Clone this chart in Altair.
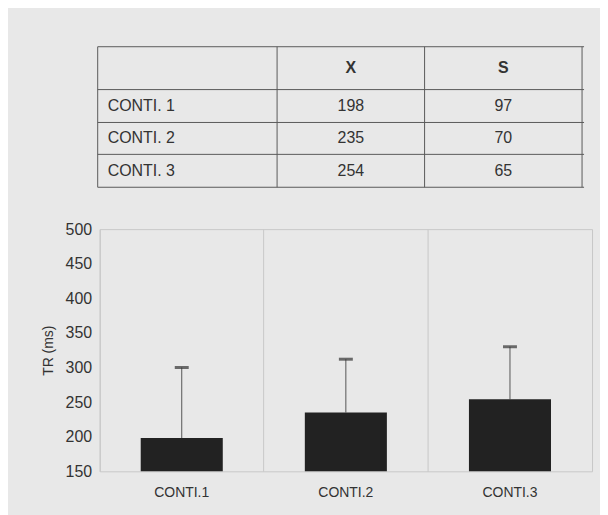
import altair as alt
import pandas as pd

# ---- data ----
categories = ["CONTI.1", "CONTI.2", "CONTI.3"]
means = [198, 235, 254]
err_tops = [300, 312, 330]          # top of error bar as drawn

row_labels = ["CONTI. 1", "CONTI. 2", "CONTI. 3"]
col_headers = ["", "X", "S"]
table_x = ["198", "235", "254"]
table_s = ["97", "70", "65"]

# ---- table layout (relative widths / heights) ----
col_widths = [180, 148, 158]
row_heights = [43, 33, 32, 33]
TW, TH = sum(col_widths), sum(row_heights)

col_edges = [sum(col_widths[:i]) for i in range(len(col_widths) + 1)]
row_edges = [sum(row_heights[:i]) for i in range(len(row_heights) + 1)]

cells = []
rows_text = [col_headers] + [[row_labels[i], table_x[i], table_s[i]] for i in range(3)]
for r in range(4):
    for c in range(3):
        cells.append({
            "xc": (col_edges[c] + col_edges[c + 1]) / 2,
            "xl": col_edges[c] + 10,
            "yc": (row_edges[r] + row_edges[r + 1]) / 2,
            "text": rows_text[r][c],
            "header": r == 0,
            "rowlabel": (c == 0 and r > 0),
        })
cells_df = pd.DataFrame(cells)
vlines_df = pd.DataFrame({"x": col_edges, "y0": 0, "y1": TH})
hlines_df = pd.DataFrame({"y": row_edges, "x0": 0, "x1": TW})

FONT = "Liberation Sans"
TXT = "#333333"
LINE = "#5a5a5a"

xs = alt.Scale(domain=[0, TW], nice=False, zero=False)
ys = alt.Scale(domain=[0, TH], nice=False, zero=False, reverse=True)

vl = alt.Chart(vlines_df).mark_rule(color=LINE, strokeWidth=1, xOffset=-2).encode(
    x=alt.X("x:Q", scale=xs, axis=None),
    y=alt.Y("y0:Q", scale=ys, axis=None), y2="y1:Q",
)
hl = alt.Chart(hlines_df).mark_rule(color=LINE, strokeWidth=1, xOffset=-2).encode(
    y=alt.Y("y:Q", scale=ys, axis=None),
    x=alt.X("x0:Q", scale=xs, axis=None), x2="x1:Q",
)
tbase = alt.Chart(cells_df)
head_txt = tbase.transform_filter("datum.header").mark_text(
    font=FONT, fontSize=16, fontWeight="bold", color=TXT, baseline="middle", align="center", xOffset=-2
).encode(x=alt.X("xc:Q", scale=xs, axis=None), y=alt.Y("yc:Q", scale=ys, axis=None), text="text:N")
lab_txt = tbase.transform_filter("datum.rowlabel").mark_text(
    font=FONT, fontSize=16, color=TXT, baseline="middle", align="left", xOffset=-2
).encode(x=alt.X("xl:Q", scale=xs, axis=None), y=alt.Y("yc:Q", scale=ys, axis=None), text="text:N")
val_txt = tbase.transform_filter("!datum.header && !datum.rowlabel").mark_text(
    font=FONT, fontSize=16, color=TXT, baseline="middle", align="center", xOffset=-2
).encode(x=alt.X("xc:Q", scale=xs, axis=None), y=alt.Y("yc:Q", scale=ys, axis=None), text="text:N")

table = alt.layer(vl, hl, head_txt, lab_txt, val_txt).properties(
    width=TW, height=TH, view=alt.ViewConfig(stroke="transparent")
)

# ---- bar chart ----
PW, PH = 494, 243
bars_df = pd.DataFrame({"cat": categories, "mean": means, "top": err_tops})
xaxis = alt.Axis(labelAngle=0, labelFont=FONT, labelFontSize=14, labelColor=TXT,
                 labelAlign="center", labelPadding=14, ticks=False, domain=False,
                 grid=True, gridColor="#c8c8c8", gridWidth=1, bandPosition=0)
xscale = alt.Scale(paddingInner=0, paddingOuter=0)
yscale = alt.Scale(domain=[150, 500], zero=False, nice=False)
yaxis = alt.Axis(values=[150, 200, 250, 300, 350, 400, 450, 500], title="TR (ms)", titleFont=FONT,
                 titleFontSize=14, titleFontWeight="normal", titleColor=TXT, titlePadding=10,
                 labelFont=FONT, labelFontSize=16, labelColor=TXT, labelPadding=8,
                 labelOverlap=False, ticks=False, domain=False, grid=False)

bb = alt.Chart(bars_df)
X = alt.X("cat:N", sort=categories, title=None, scale=xscale, axis=xaxis)
bar = bb.mark_bar(color="#222222", width=alt.RelativeBandSize(0.5)).encode(
    x=X, y=alt.Y("mean:Q", scale=yscale, axis=yaxis), y2=alt.Y2(datum=150)
)
err = bb.mark_rule(color="#555555", strokeWidth=1).encode(
    x=X, y=alt.Y("mean:Q", scale=yscale, axis=yaxis), y2="top:Q"
)
cap = bb.mark_tick(color="#333333", thickness=3, size=14, orient="horizontal").encode(
    x=X, y=alt.Y("top:Q", scale=yscale, axis=yaxis)
)
barchart = alt.layer(err, bar, cap).properties(
    width=PW, height=PH, view=alt.ViewConfig(stroke="#c8c8c8", strokeWidth=1)
)

chart = alt.vconcat(table, barchart, spacing=32).properties(
    padding={"left": 32, "top": 37, "right": 7, "bottom": 18},
    background="#e8e8e8",
).configure_scale(bandPaddingInner=0, bandPaddingOuter=0).configure_axisY(labelOverlap=False)

chart.save("out.html", embed_options={"renderer": "svg", "actions": False})
